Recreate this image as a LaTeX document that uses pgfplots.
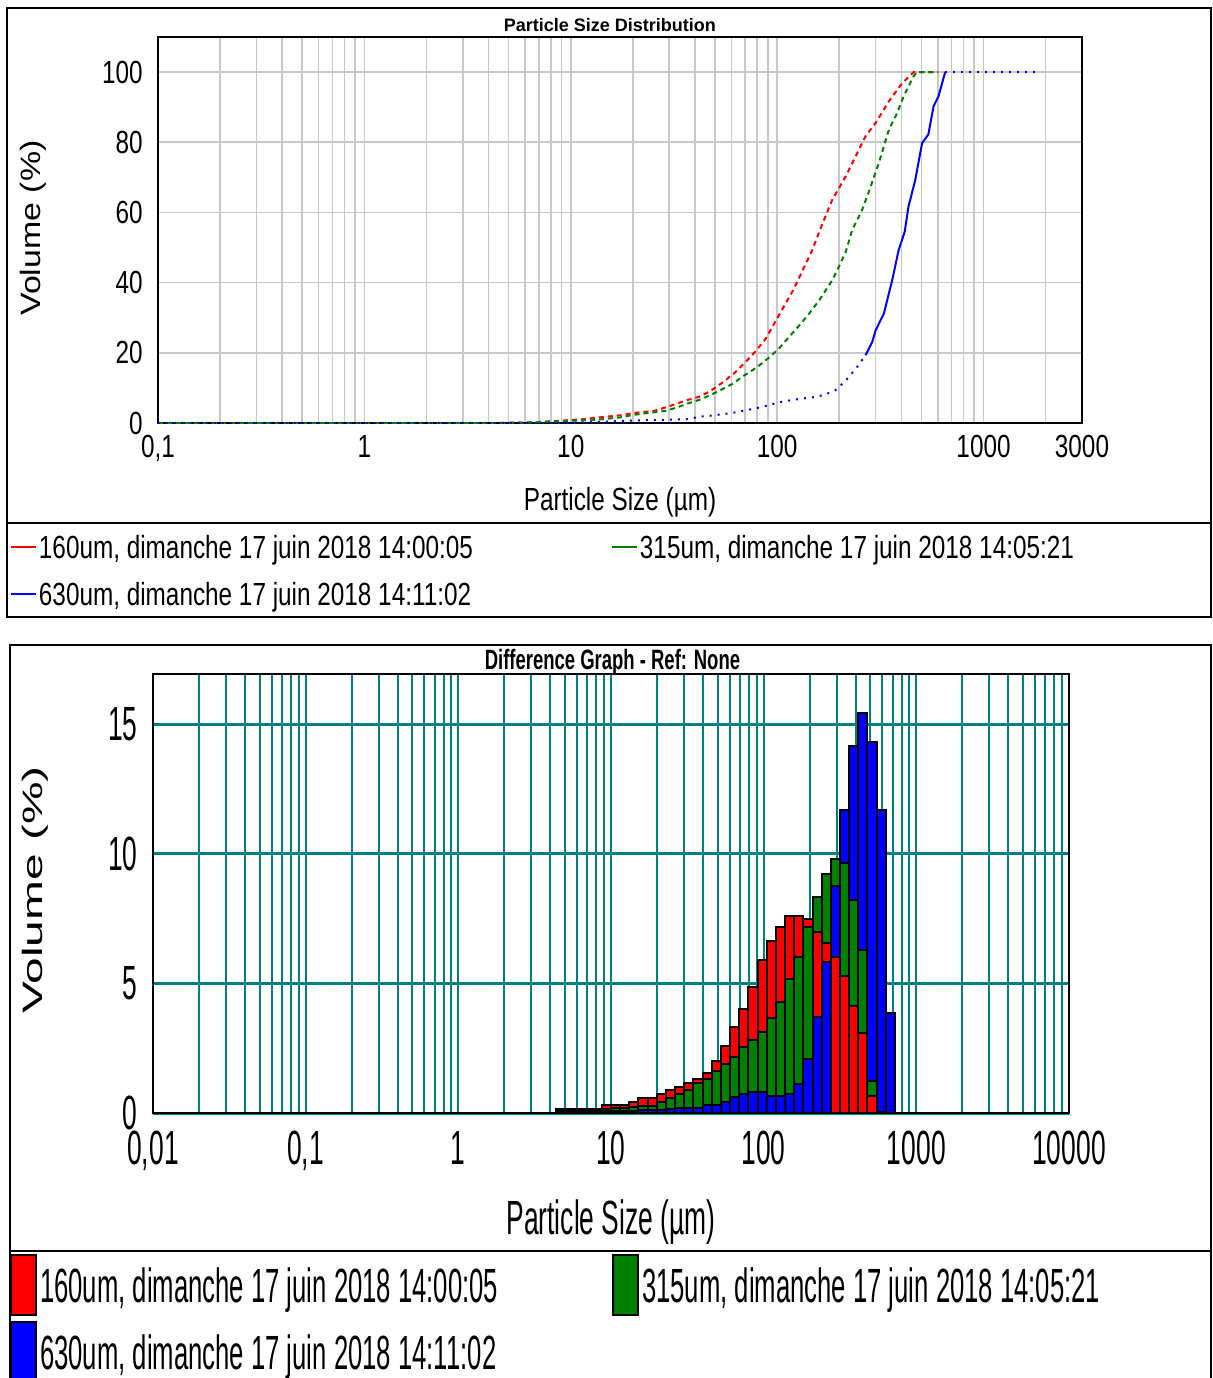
\documentclass[border=0pt]{standalone}
\usepackage{fontspec}
\setmainfont{Liberation Sans}
\newfontfamily\fontTA[FakeStretch=0.76]{Liberation Sans}
\newfontfamily\fontTB[FakeStretch=0.55]{Liberation Sans}
\newfontfamily\fontTL[FakeStretch=0.535]{Liberation Sans}
\newfontfamily\fontTBT[FakeStretch=0.66]{Liberation Sans}
\newfontfamily\fontVA[FakeStretch=1.21]{Liberation Sans}
\newfontfamily\fontVB[FakeStretch=1.71]{Liberation Sans}
\usepackage{pgfplots}
\pgfplotsset{compat=1.18}
\definecolor{gr}{RGB}{0,128,0}
\definecolor{tl}{RGB}{0,128,128}
\definecolor{lg}{RGB}{200,200,200}
\newcommand\fTop{\fontTA\fontsize{16}{19}\selectfont}
\newcommand\fBot{\fontTB\fontsize{24}{28}\selectfont}
\newcommand\fBotL{\fontTL\fontsize{24}{28}\selectfont}
\begin{document}
\begin{tikzpicture}
\path[use as bounding box] (0pt,0pt) rectangle (606pt,-689pt);
% panel frames
\draw[line width=1.2pt] (3.5pt,-4pt) rectangle (605.5pt,-308.5pt);
\draw[line width=1.2pt] (3.5pt,-261.5pt) -- (605.5pt,-261.5pt);
\draw[line width=1.2pt] (5pt,-322.5pt) rectangle (605.5pt,-692pt);
\draw[line width=1.2pt] (5pt,-625.5pt) -- (605.5pt,-625.5pt);

%================ TOP: cumulative =================
\begin{axis}[
  at={(79pt,-211.5pt)}, anchor=south west, scale only axis,
  width=462pt, height=193pt,
  xmode=log, xmin=0.1, xmax=3000, ymin=0, ymax=110,
  xtick={0.1,1,10,100,1000}, xticklabels={{0,1},1,10,100,1000},
  extra x ticks={3000}, extra x tick labels={3000}, extra x tick style={grid=none},
  minor xtick={0.2,0.3,0.4,0.5,0.6,0.7,0.8,0.9,2,3,4,5,6,7,8,9,20,30,40,50,60,70,80,90,200,300,400,500,600,700,800,900,2000},
  ytick={0,20,40,60,80,100}, yticklabels={0,20,40,60,80,100},
  grid=both,
  major grid style={lg, line width=0.8pt},
  minor grid style={lg, line width=0.8pt},
  major tick length=0pt, minor tick length=0pt,
  axis line style={black, line width=1pt},
  ticklabel style={font=\fTop, inner sep=0pt},
  xticklabel style={yshift=-6pt},
  yticklabel style={xshift=-7.5pt},
  xlabel={Particle Size (µm)},
  xlabel style={font=\fTop, at={(axis description cs:0.5,-0.205)}, anchor=center},
  ylabel={Volume (\%)},
  ylabel style={font=\fontVA\fontsize{14}{16}\selectfont, at={(axis description cs:-0.135,0.505)}, anchor=center},
  title={Particle Size Distribution},
  title style={font=\bfseries\fontsize{9}{10}\selectfont, at={(axis description cs:0.489,1)}, anchor=base, yshift=-3.25pt},
  legend image code/.code={\draw[#1] (0pt,0pt) -- (12.5pt,0pt);},
  legend style={at={(axis description cs:-0.1602,-0.2707)}, anchor=north west,
    draw=none, fill=none, inner sep=0pt, outer sep=0pt, legend columns=2,
    font=\fTop, row sep=4pt, cells={anchor=west},
    nodes={inner sep=0pt, text width=284pt, align=flush left, text height=15.5pt, text depth=4pt},
    /tikz/every odd column/.append style={column sep=1pt},
    /tikz/every even column/.append style={column sep=2pt}},
]
\addplot[red, line width=1pt, dash pattern=on 2.5pt off 2pt, forget plot] coordinates {
(0.1,0) (4.37,0) (6.6,0.2) (8.71,0.6) (11.5,1.1) (13.2,1.5) (17.4,2.2) (20,2.8)
(25.5,3.5) (29,4.5) (37,6.6) (42,7.5) (47.8,9.2) (54.5,11.6) (62,14.2) (69,16.9)
(78,20.2) (88,24) (102,30.7) (120,38) (148,49.3) (166,56.9) (185,63.6) (215,70.3)
(240,76) (268,81.7) (300,85.5) (348,91.7) (404,96.9) (459,100) (603,100)};
\addplot[gr, line width=1pt, dash pattern=on 2.5pt off 2pt, forget plot] coordinates {
(0.1,0) (4.37,0) (6.6,0.2) (8.71,0.5) (13.2,0.9) (17.4,1.6) (20,2.3) (29,3.5)
(33,4.5) (37,5.6) (42,6.6) (48,8.1) (54.5,9.7) (61,11.2) (69,13.5) (79,15.7)
(90,18.3) (102,21.2) (114,24.5) (128,27.8) (143,31.2) (160,35) (185,40.7) (199,44.5)
(215,48.8) (231,55) (258,60.7) (284,67.4) (311,74.1) (348,83.6) (382,88.4) (410,93.1)
(459,98.9) (476,100) (603,100)};
\addplot[blue, line width=1pt, dash pattern=on 1pt off 3pt, forget plot] coordinates {
(0.1,0) (8.7,0) (13.2,0.3) (20,0.7) (37,1.1) (42,1.8) (48,2.1) (61,2.9) (69,3.5)
(79,4.2) (90,5) (102,5.9) (114,6.4) (130,6.9) (148,7.3) (169,8) (192,9.4) (215,12.1)
(240,15.4) (268,19.3)};
\addplot[blue, line width=1pt, forget plot] coordinates {
(268,19.3) (289,23.1) (300,26.4) (329,31.2) (361,40.7) (388,49.3) (415,54.5)
(433,61.7) (467,69.3) (504,79.8) (540,82.2) (573,90.3) (605,93.1) (652,100)};
\addplot[blue, line width=1pt, dash pattern=on 1pt off 3pt, forget plot] coordinates {
(652,100) (1850,100)};
\addlegendimage{red, line width=1pt}
\addlegendentry{160um, dimanche 17 juin 2018 14:00:05}
\addlegendimage{gr, line width=1pt}
\addlegendentry{315um, dimanche 17 juin 2018 14:05:21}
\addlegendimage{blue, line width=1pt}
\addlegendentry{630um, dimanche 17 juin 2018 14:11:02}
\end{axis}

%================ BOTTOM: difference histogram =================
\begin{axis}[
  at={(76.5pt,-556.5pt)}, anchor=south west, scale only axis,
  width=458pt, height=219.5pt,
  xmode=log, xmin=0.01, xmax=10000, ymin=0, ymax=16.93,
  xtick={0.01,0.1,1,10,100,1000,10000},
  xticklabels={{0,01},{0,1},1,10,100,1000,10000},
  minor xtick={0.02,0.03,0.04,0.05,0.06,0.07,0.08,0.09,0.2,0.3,0.4,0.5,0.6,0.7,0.8,0.9,2,3,4,5,6,7,8,9,20,30,40,50,60,70,80,90,200,300,400,500,600,700,800,900,2000,3000,4000,5000,6000,7000,8000,9000},
  ytick={0,5,10,15}, yticklabels={0,5,10,15},
  grid=both,
  major grid style={tl, line width=1pt},
  minor grid style={tl, line width=1pt},
  major y grid style={line width=1.5pt},
  major tick length=0pt, minor tick length=0pt,
  axis line style={black, line width=1.2pt},
  ticklabel style={font=\fBot, inner sep=0pt},
  xticklabel style={yshift=-9pt},
  yticklabel style={xshift=-7.5pt},
  xlabel={Particle Size (µm)},
  xlabel style={font=\fBot, at={(axis description cs:0.5,-0.2483)}, anchor=center},
  ylabel={Volume (\%)},
  ylabel style={font=\fontVB\fontsize{14}{16}\selectfont, at={(axis description cs:-0.1288,0.508)}, anchor=center},
  title={Difference Graph - Ref: None},
  title style={font=\fontTBT\bfseries\fontsize{14}{16}\selectfont, at={(axis description cs:0.5016,1)}, anchor=base, yshift=-3.5pt},
  legend image code/.code={\draw[#1] (0pt,-15pt) rectangle (12.5pt,15pt);},
  legend style={at={(axis description cs:-0.1561,-0.3212)}, anchor=north west,
    draw=none, fill=none, inner sep=0pt, outer sep=0pt, legend columns=2,
    font=\fBotL, row sep=2.5pt, cells={anchor=west},
    nodes={inner sep=0pt, text width=284pt, align=flush left, text height=24pt, text depth=7pt},
    /tikz/every odd column/.append style={column sep=1.5pt},
    /tikz/every even column/.append style={column sep=2pt}},
]
% baseline of empty bins
\addplot[ybar interval, fill=black, draw=black, line width=1pt, forget plot] coordinates {(0.01,0) (10000,0)};
% back layer (largest value of each bin)
\addplot[ybar interval, fill=red, draw=black, line width=1pt, forget plot] coordinates {
(4.365,0.15) (5.012,0.15) (5.754,0.15) (6.607,0.15) (7.586,0.15) (8.710,0.30)
(10.00,0.30) (11.48,0.30) (13.18,0.42) (15.14,0.57) (17.38,0.57) (19.95,0.73)
(22.91,0.89) (26.30,0.99) (30.20,1.15) (34.67,1.30) (39.81,1.55) (45.71,2.02)
(52.48,2.60) (60.26,3.33) (69.18,4.00) (79.43,4.86) (91.20,5.89) (104.7,6.64)
(120.2,7.18) (138.0,7.61) (158.5,7.61) (182.0,7.48) (208.9,7.48)};
\addplot[ybar interval, fill=gr, draw=black, line width=1pt, forget plot] coordinates {
(208.9,8.34) (239.9,9.21) (275.4,9.78) (316.2,9.78)};
\addplot[ybar interval, fill=blue, draw=black, line width=1pt, forget plot] coordinates {
(316.2,11.69) (363.1,14.16) (416.9,15.44) (478.6,14.29) (549.5,11.69) (631.0,3.86) (724.4,3.86)};
% middle layer
\addplot[ybar interval, fill=gr, draw=black, line width=1pt, forget plot] coordinates {
(4.365,0.12) (5.012,0.12) (5.754,0.12) (6.607,0.12) (7.586,0.12) (8.710,0.15)
(10.00,0.18) (11.48,0.20) (13.18,0.25) (15.14,0.28) (17.38,0.28) (19.95,0.44)
(22.91,0.59) (26.30,0.72) (30.20,0.89) (34.67,1.17) (39.81,1.30) (45.71,1.62)
(52.48,1.89) (60.26,2.17) (69.18,2.53) (79.43,2.81) (91.20,3.13) (104.7,3.68)
(120.2,4.29) (138.0,5.15) (158.5,6.02) (182.0,7.18) (208.9,7.18)};
\addplot[ybar interval, fill=red, draw=black, line width=1pt, forget plot] coordinates {
(208.9,6.99) (239.9,6.56) (275.4,6.56)};
\addplot[ybar interval, fill=blue, draw=black, line width=1pt, forget plot] coordinates {
(275.4,8.76) (316.2,8.76)};
\addplot[ybar interval, fill=gr, draw=black, line width=1pt, forget plot] coordinates {
(316.2,9.63) (363.1,8.21) (416.9,6.28) (478.6,1.22) (549.5,0.05) (631.0,0.05)};
% front layer (smallest value of each bin)
\addplot[ybar interval, fill=blue, draw=black, line width=1pt, forget plot] coordinates {
(4.365,0.05) (5.012,0.05) (5.754,0.05) (6.607,0.06) (7.586,0.06) (8.710,0.06)
(10.00,0.06) (11.48,0.07) (13.18,0.08) (15.14,0.10) (17.38,0.10) (19.95,0.12)
(22.91,0.14) (26.30,0.18) (30.20,0.18) (34.67,0.18) (39.81,0.31) (45.71,0.31)
(52.48,0.44) (60.26,0.63) (69.18,0.74) (79.43,0.81) (91.20,0.81) (104.7,0.66)
(120.2,0.66) (138.0,0.75) (158.5,1.11) (182.0,2.10) (208.9,3.71) (239.9,5.83) (275.4,5.83)};
\addplot[ybar interval, fill=red, draw=black, line width=1pt, forget plot] coordinates {
(275.4,6.02) (316.2,5.28) (363.1,4.12) (416.9,3.09) (478.6,0.64) (549.5,0.64)};
\addlegendimage{fill=red, draw=black, line width=1pt}
\addlegendentry{160um, dimanche 17 juin 2018 14:00:05}
\addlegendimage{fill=gr, draw=black, line width=1pt}
\addlegendentry{315um, dimanche 17 juin 2018 14:05:21}
\addlegendimage{fill=blue, draw=black, line width=1pt}
\addlegendentry{630um, dimanche 17 juin 2018 14:11:02}
\end{axis}
\end{tikzpicture}
\end{document}
